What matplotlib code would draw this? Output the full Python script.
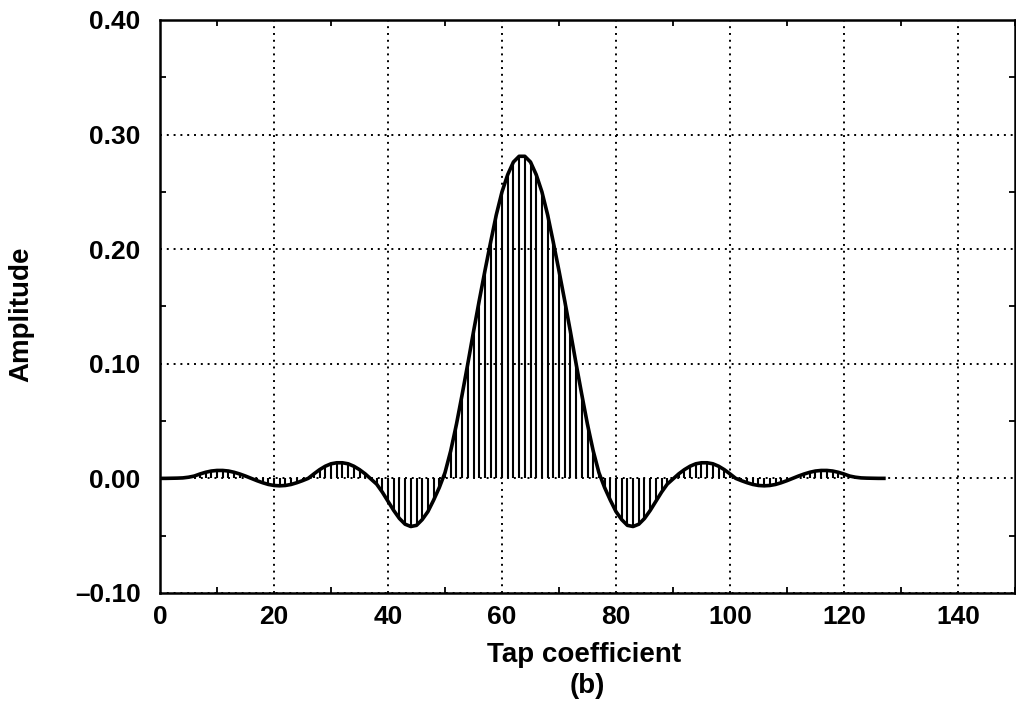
import numpy as np
import matplotlib
matplotlib.use("Agg")
import matplotlib.pyplot as plt
from matplotlib.ticker import MultipleLocator, FuncFormatter

plt.rcParams['font.family'] = ['Liberation Sans', 'DejaVu Sans']
plt.rcParams['font.weight'] = 'bold'

# FIR filter tap coefficients (128 taps, symmetric)
taps = np.arange(128)
coeffs = [
    0.0000, 0.0000, 0.0001, 0.0002, 0.0004, 0.0010, 0.0020, 0.0038,
    0.0053, 0.0064, 0.0069, 0.0069, 0.0064, 0.0053, 0.0038, 0.0020,
    0.0000, -0.0020, -0.0038, -0.0053, -0.0062, -0.0065, -0.0062, -0.0053,
    -0.0038, -0.0020, 0.0000, 0.0039, 0.0076, 0.0106, 0.0127, 0.0136,
    0.0136, 0.0127, 0.0106, 0.0076, 0.0039, -0.0005, -0.0050, -0.0120,
    -0.0200, -0.0280, -0.0350, -0.0400, -0.0420, -0.0410, -0.0360, -0.0290,
    -0.0190, -0.0080, 0.0050, 0.0240, 0.0470, 0.0730, 0.1000, 0.1280,
    0.1550, 0.1810, 0.2060, 0.2300, 0.2500, 0.2650, 0.2760, 0.2810,
    0.2810, 0.2760, 0.2650, 0.2500, 0.2300, 0.2060, 0.1810, 0.1550,
    0.1280, 0.1000, 0.0730, 0.0470, 0.0240, 0.0050, -0.0080, -0.0190,
    -0.0290, -0.0360, -0.0410, -0.0420, -0.0400, -0.0350, -0.0280, -0.0200,
    -0.0120, -0.0050, -0.0005, 0.0039, 0.0076, 0.0106, 0.0127, 0.0136,
    0.0136, 0.0127, 0.0106, 0.0076, 0.0039, 0.0000, -0.0020, -0.0038,
    -0.0053, -0.0062, -0.0065, -0.0062, -0.0053, -0.0038, -0.0020, 0.0000,
    0.0020, 0.0038, 0.0053, 0.0064, 0.0069, 0.0069, 0.0064, 0.0053,
    0.0038, 0.0020, 0.0010, 0.0004, 0.0002, 0.0001, 0.0000, 0.0000,
]

x_ticks = [0, 20, 40, 60, 80, 100, 120, 140]
y_ticks = [-0.10, 0.00, 0.10, 0.20, 0.30, 0.40]


def amp_fmt(v, pos):
    s = f"{abs(v):.2f}"
    return ("\u2013" + s) if v < -1e-9 else s


fig = plt.figure(figsize=(10.16, 7.11), dpi=100)
ax = fig.add_axes([0.1575, 0.166, 0.8415, 0.806])

ax.vlines(taps, 0, coeffs, colors='black', linewidth=1.5, zorder=3)
ax.plot(taps, coeffs, color='black', linewidth=2.6, zorder=4,
        solid_joinstyle='round')

ax.set_xlim(0, 150)
ax.set_ylim(-0.10, 0.40)
ax.set_xticks(x_ticks)
ax.set_yticks(y_ticks)
ax.xaxis.set_minor_locator(MultipleLocator(10))
ax.yaxis.set_minor_locator(MultipleLocator(0.05))
ax.yaxis.set_major_formatter(FuncFormatter(amp_fmt))

ax.grid(True, which='major', color='black', linestyle=(0, (1, 2.5)), linewidth=1.4)
ax.set_axisbelow(True)

ax.tick_params(which='both', direction='in', top=True, right=True,
               labelsize=19, width=1.3)
ax.tick_params(which='major', length=0)
ax.tick_params(axis='x', which='major', pad=9)
ax.tick_params(axis='y', which='major', pad=14)
ax.tick_params(which='minor', length=4.5)
for s in ax.spines.values():
    s.set_linewidth(1.8)

fig.text(584 / 1016, 1 - 655 / 711, 'Tap coefficient', fontsize=20,
         ha='center', va='center')
fig.text(587 / 1016, 1 - 686 / 711, '(b)', fontsize=20,
         ha='center', va='center')
fig.text(21 / 1016, 1 - 314 / 711, 'Amplitude', fontsize=20,
         rotation=90, ha='center', va='center')

fig.savefig('out.png', dpi=100)
